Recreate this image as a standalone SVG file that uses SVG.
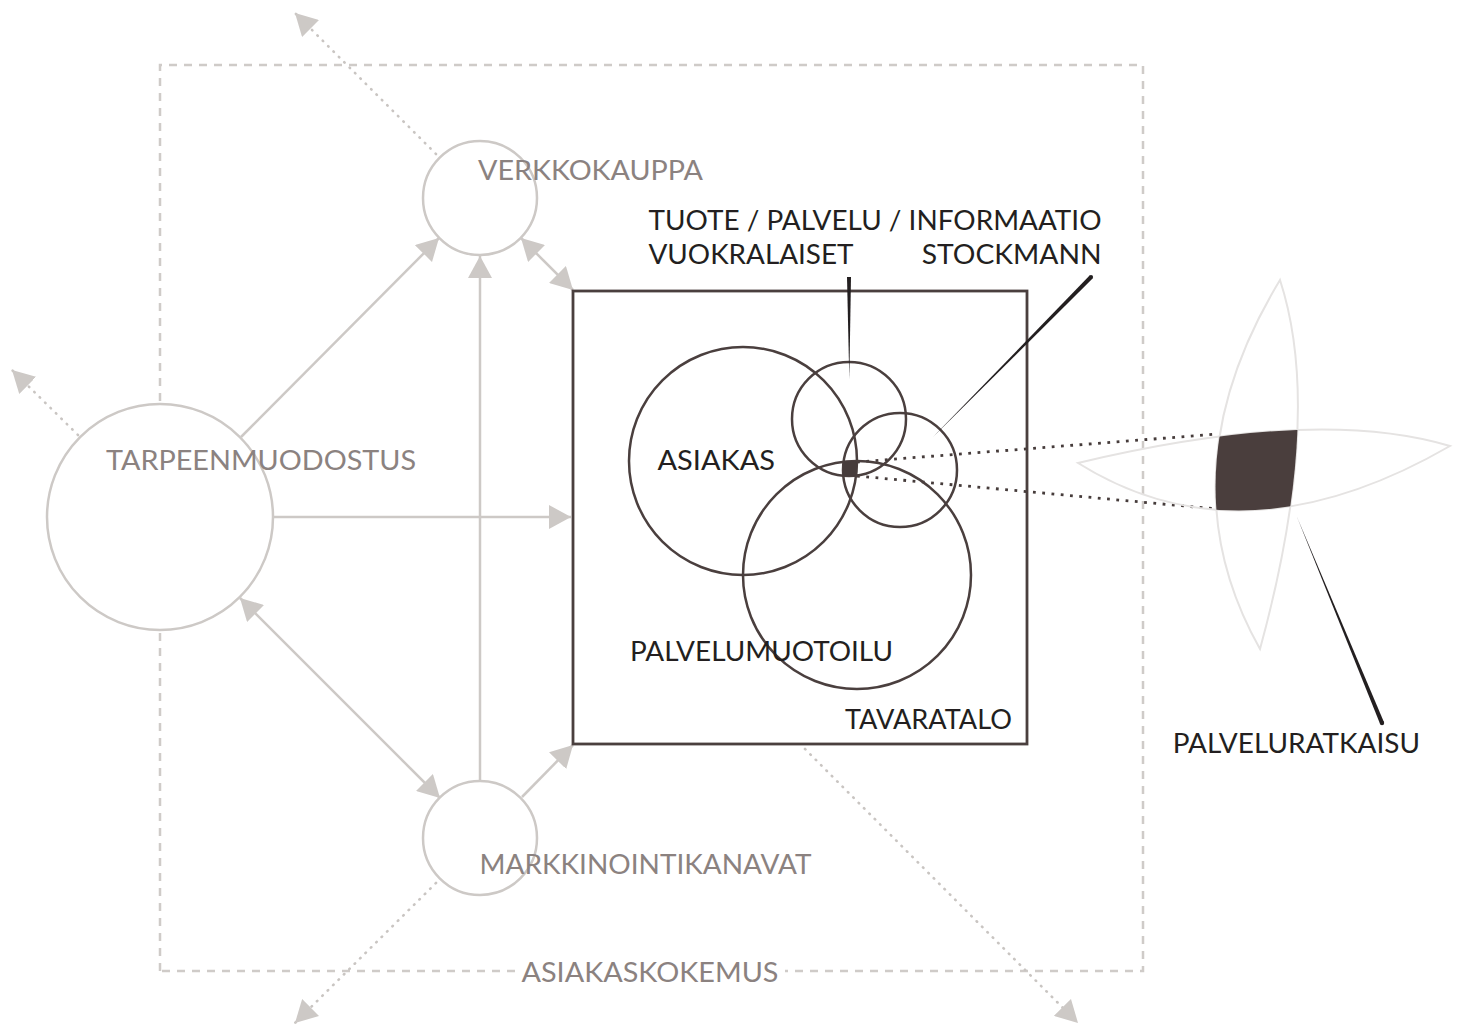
<svg xmlns="http://www.w3.org/2000/svg" width="1458" height="1025" viewBox="0 0 1458 1025">
<style>
.frame{fill:none;stroke:#cfcbc8;stroke-width:2.5;stroke-dasharray:8 7}
.arr{fill:none;stroke:#cdc9c6;stroke-width:2.5}
.dot{fill:none;stroke:#c9c5c2;stroke-width:2.6;stroke-dasharray:0.6 7;stroke-linecap:round}
.ddot{fill:none;stroke:#463c3b;stroke-width:2.8;stroke-dasharray:2.8 6.5}
.gnode{fill:#fff;stroke:#cdc9c6;stroke-width:2.5}
.dnode{fill:none;stroke:#4a3f3e;stroke-width:2.5}
.lens{fill:none;stroke:#e5e3e2;stroke-width:2}
.gt{font-family:Lato,"Liberation Sans",sans-serif;font-size:26px;fill:#8b8280}
.bt{font-family:Lato,"Liberation Sans",sans-serif;font-size:26px;fill:#231f20}
.lead{fill:#231f20}
</style>
<defs>
<marker id="ah" viewBox="0 0 22 24" refX="22" refY="12" markerWidth="22" markerHeight="24" markerUnits="userSpaceOnUse" orient="auto-start-reverse">
<path d="M0,0L22,12L0,24Z" fill="#cdc9c6"/>
</marker>
<clipPath id="cA"><circle cx="743" cy="461" r="114"/></clipPath>
<clipPath id="cT"><circle cx="849" cy="419" r="57"/></clipPath>
<clipPath id="cR"><circle cx="900" cy="470" r="57"/></clipPath>
<clipPath id="hl"><path d="M1078,463Q1316,406 1450,446Q1242,566 1078,463Z"/></clipPath>
</defs>

<g id="asiakaskokemus">
<path class="frame" d="M160,971V65H1143V971H785M515,971H160"/>
<text class="gt" x="521.5" y="982" textLength="257" lengthAdjust="spacingAndGlyphs">ASIAKASKOKEMUS</text>
</g>

<g id="connectors">
<line class="dot" x1="436" y1="154" x2="295" y2="13" marker-end="url(#ah)"/>
<line class="dot" x1="78" y1="435" x2="12" y2="370" marker-end="url(#ah)"/>
<line class="dot" x1="436" y1="883" x2="295" y2="1023" marker-end="url(#ah)"/>
<line class="dot" x1="805" y1="749" x2="1078" y2="1023" marker-end="url(#ah)"/>
<line class="arr" x1="241" y1="437" x2="439" y2="238" marker-end="url(#ah)"/>
<line class="arr" x1="480" y1="780" x2="480" y2="256" marker-end="url(#ah)"/>
<line class="arr" x1="521" y1="238" x2="573" y2="290" marker-start="url(#ah)" marker-end="url(#ah)"/>
<line class="arr" x1="273" y1="517" x2="571" y2="517" marker-end="url(#ah)"/>
<line class="arr" x1="240" y1="598" x2="440" y2="798" marker-start="url(#ah)" marker-end="url(#ah)"/>
<line class="arr" x1="522" y1="797" x2="573" y2="745" marker-end="url(#ah)"/>
<line class="ddot" x1="857" y1="462" x2="1218" y2="434"/>
<line class="ddot" x1="857" y1="476" x2="1217" y2="509"/>
</g>

<g id="verkkokauppa">
<circle class="gnode" cx="480" cy="198" r="57"/>
<text class="gt" x="478" y="180" textLength="225" lengthAdjust="spacingAndGlyphs">VERKKOKAUPPA</text>
</g>

<g id="tarpeenmuodostus">
<circle class="gnode" cx="160" cy="517" r="113"/>
<text class="gt" x="106" y="469.5" textLength="310" lengthAdjust="spacingAndGlyphs">TARPEENMUODOSTUS</text>
</g>

<g id="markkinointikanavat">
<circle class="gnode" cx="480" cy="838" r="57"/>
<text class="gt" x="479.5" y="873.5" textLength="332" lengthAdjust="spacingAndGlyphs">MARKKINOINTIKANAVAT</text>
</g>

<g id="tavaratalo">
<rect x="573" y="291" width="454" height="453" fill="none" stroke="#4a3f3e" stroke-width="2.8"/>
<text class="bt" x="845" y="729" textLength="167" lengthAdjust="spacingAndGlyphs">TAVARATALO</text>
</g>

<g id="asiakas">
<circle class="dnode" cx="743" cy="461" r="114"/>
<text class="bt" x="657.5" y="469.5" textLength="117.5" lengthAdjust="spacingAndGlyphs">ASIAKAS</text>
</g>

<g id="palvelumuotoilu">
<circle class="dnode" cx="857" cy="575" r="114"/>
<text class="bt" x="630" y="660.5" textLength="263" lengthAdjust="spacingAndGlyphs">PALVELUMUOTOILU</text>
</g>

<g id="vuokralaiset">
<circle class="dnode" cx="849" cy="419" r="57"/>
<polygon class="lead" points="847,277 851,277 849.3,379"/>
<text class="bt" x="648.5" y="264" textLength="205" lengthAdjust="spacingAndGlyphs">VUOKRALAISET</text>
</g>

<g id="stockmann">
<circle class="dnode" cx="900" cy="470" r="57"/>
<polygon class="lead" points="1092.6,278.6 1089.6,275.6 932,438"/>
<circle class="lead" cx="1091" cy="277" r="2.1"/>
<text class="bt" x="921.7" y="264" textLength="180" lengthAdjust="spacingAndGlyphs">STOCKMANN</text>
</g>

<g id="tuote">
<text class="bt" x="648.5" y="229.5" textLength="453" lengthAdjust="spacingAndGlyphs">TUOTE / PALVELU / INFORMAATIO</text>
<g clip-path="url(#cA)"><g clip-path="url(#cT)"><g clip-path="url(#cR)">
<circle cx="857" cy="575" r="114" fill="#463c3b"/>
</g></g></g>
</g>

<g id="palveluratkaisu">
<path class="lens" d="M1078,463Q1316,406 1450,446Q1242,566 1078,463Z"/>
<path class="lens" d="M1280,280Q1324,415 1260,649Q1162,475 1280,280Z"/>
<g clip-path="url(#hl)">
<path d="M1280,280Q1324,415 1260,649Q1162,475 1280,280Z" fill="#4a3e3d"/>
</g>
<polygon class="lead" points="1297,517 1384,722.2 1380,723.8"/>
<circle class="lead" cx="1382" cy="723" r="2.2"/>
<text class="bt" x="1172.7" y="753.3" textLength="247.3" lengthAdjust="spacingAndGlyphs">PALVELURATKAISU</text>
</g>
</svg>
